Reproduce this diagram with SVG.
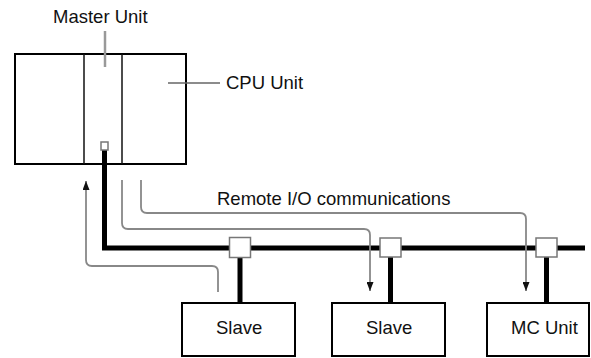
<svg xmlns="http://www.w3.org/2000/svg" width="591" height="358" viewBox="0 0 591 358">
<defs>
<style>
text{font-family:"Liberation Sans",Arial,sans-serif;font-size:18.5px;fill:#111}
.box{fill:#fff;stroke:#000;stroke-width:2}
.div{stroke:#111;stroke-width:1.5;fill:none}
.bus{stroke:#000;stroke-width:5;fill:none}
.tap{fill:#fff;stroke:#777;stroke-width:1.5}
.flow{stroke:#888;stroke-width:1.8;fill:none}
.lead{stroke:#999;stroke-width:2.5;fill:none}
.lead2{stroke:#666;stroke-width:1.5;fill:none}
</style>
<marker id="ah" viewBox="0 0 9 7" refX="9" refY="3.5" markerWidth="9" markerHeight="7" markerUnits="userSpaceOnUse" orient="auto">
<path d="M0,0 L9,3.5 L0,7 Z" fill="#111"/>
</marker>
</defs>
<g id="plc">
<rect class="box" x="15" y="54" width="171" height="110"/>
<line class="div" x1="84" y1="54" x2="84" y2="164"/>
<line class="div" x1="122" y1="54" x2="122" y2="164"/>
</g>
<g id="master-label">
<text x="53" y="23">Master Unit</text>
<line class="lead" x1="105" y1="31" x2="105" y2="67"/>
</g>
<g id="cpu-label">
<text x="226" y="89">CPU Unit</text>
<line class="lead2" x1="168" y1="83" x2="220" y2="83"/>
</g>
<g id="connectors">
<path class="bus" d="M104.5,150 V248 H585"/>
<rect class="tap" x="101" y="142" width="7" height="8"/>
<line class="bus" x1="240" y1="257" x2="240" y2="303"/>
<line class="bus" x1="390.5" y1="257" x2="390.5" y2="303"/>
<line class="bus" x1="546.5" y1="257" x2="546.5" y2="303"/>
<path class="flow" d="M218,292 V272 Q218,266 212,266 H92 Q86,266 86,260 V181" marker-end="url(#ah)"/>
<path class="flow" d="M122,180 V223 Q122,229 128,229 H364 Q370,229 370,235 V291" marker-end="url(#ah)"/>
<path class="flow" d="M141,180 V207 Q141,213 147,213 H520 Q526,213 526,219 V291" marker-end="url(#ah)"/>
</g>
<g id="tap1"><rect class="tap" x="229.5" y="237.5" width="21" height="20"/></g>
<g id="tap2"><rect class="tap" x="380" y="238" width="21" height="19"/></g>
<g id="tap3"><rect class="tap" x="536" y="238" width="21" height="19"/></g>
<g id="comm-label"><text x="217" y="205">Remote I/O communications</text></g>
<g id="slave1">
<rect class="box" x="182" y="303" width="113" height="53"/>
<text x="216" y="334">Slave</text>
</g>
<g id="slave2">
<rect class="box" x="332" y="303" width="113" height="53"/>
<text x="366" y="334">Slave</text>
</g>
<g id="mc-unit">
<rect class="box" x="487" y="303" width="102" height="53"/>
<text x="511" y="334">MC Unit</text>
</g>
</svg>
